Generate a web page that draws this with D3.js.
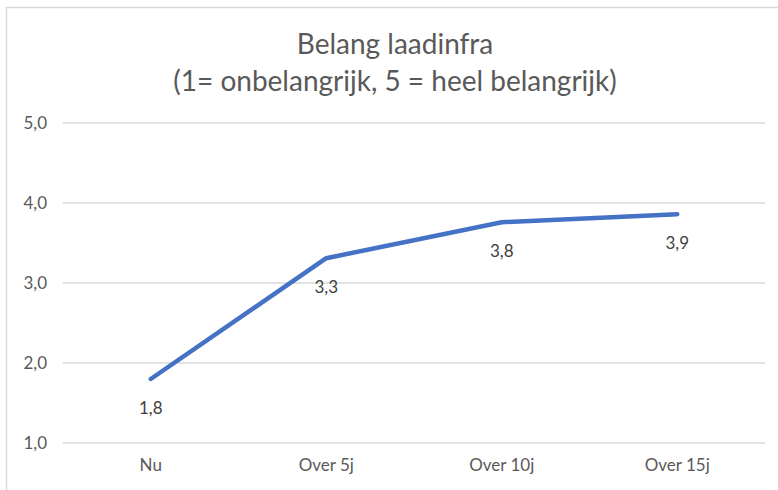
<!DOCTYPE html>
<html>
<head>
<meta charset="utf-8">
<script src="https://cdn.jsdelivr.net/npm/d3@7"></script>
<style>
  body { margin: 0; background: #fff; }
  text { font-family: Lato, "Open Sans", sans-serif; }
</style>
</head>
<body>
<svg id="chart"></svg>
<script>
// chart data
const categories = ["Nu", "Over 5j", "Over 10j", "Over 15j"];
const values = [1.8, 3.31, 3.76, 3.86];
const labels = ["1,8", "3,3", "3,8", "3,9"];
const yTicks = [1, 2, 3, 4, 5];
const titleLines = ["Belang laadinfra", "(1= onbelangrijk, 5 = heel belangrijk)"];

const W = 778, H = 490;
const margin = { top: 123, right: 13, bottom: 47, left: 63 };
const width = W - margin.left - margin.right;
const height = H - margin.top - margin.bottom;

const root = d3.select("#chart").attr("width", W).attr("height", H);

// outer frame (partly cropped)
root.append("rect")
  .attr("x", 6.5).attr("y", 7.5)
  .attr("width", W + 10).attr("height", H + 10)
  .attr("fill", "#fff")
  .attr("stroke", "#d9d9d9")
  .attr("stroke-width", 1.5);

// title
root.append("g")
  .selectAll("text")
  .data(titleLines)
  .enter()
  .append("text")
  .attr("x", 395)
  .attr("y", (d, i) => 54 + i * 37)
  .attr("text-anchor", "middle")
  .attr("font-size", 28)
  .attr("fill", "#595959")
  .text((d) => d);

const svg = root.append("g")
  .attr("transform", `translate(${margin.left},${margin.top})`);

const x = d3.scaleBand().domain(categories).range([0, width]);
const y = d3.scaleLinear().domain([1, 5]).range([height, 0]);

// gridlines
svg.append("g")
  .selectAll("line")
  .data(yTicks)
  .enter()
  .append("line")
  .attr("x1", 0)
  .attr("x2", width)
  .attr("y1", (d) => y(d))
  .attr("y2", (d) => y(d))
  .attr("stroke", "#d9d9d9")
  .attr("stroke-width", 1.3);

// y axis labels
const yAxis = svg.append("g")
  .call(d3.axisLeft(y).tickValues(yTicks).tickSize(0).tickPadding(16)
    .tickFormat((d) => d3.format(".1f")(d).replace(".", ",")));
yAxis.select(".domain").remove();
yAxis.selectAll("text").attr("font-size", 17).attr("fill", "#595959")
  .style("font-family", "Lato, sans-serif");

// x axis labels
const xAxis = svg.append("g")
  .attr("transform", `translate(0,${height})`)
  .call(d3.axisBottom(x).tickSize(0).tickPadding(16));
xAxis.select(".domain").remove();
xAxis.selectAll("text").attr("font-size", 17).attr("fill", "#595959")
  .style("font-family", "Lato, sans-serif");

const pts = categories.map((c, i) => ({ c, v: values[i], l: labels[i] }));

// line
const line = d3.line()
  .x((d) => x(d.c) + x.bandwidth() / 2)
  .y((d) => y(d.v));

svg.append("path")
  .datum(pts)
  .attr("fill", "none")
  .attr("stroke", "#4472c4")
  .attr("stroke-width", 4.5)
  .attr("stroke-linecap", "round")
  .attr("stroke-linejoin", "round")
  .attr("d", line);

// data labels below points
svg.selectAll(".dl")
  .data(pts)
  .enter()
  .append("text")
  .attr("class", "dl")
  .attr("x", (d) => x(d.c) + x.bandwidth() / 2)
  .attr("y", (d) => y(d.v) + 35)
  .attr("text-anchor", "middle")
  .attr("font-size", 17)
  .attr("fill", "#404040")
  .text((d) => d.l);
</script>
</body>
</html>
